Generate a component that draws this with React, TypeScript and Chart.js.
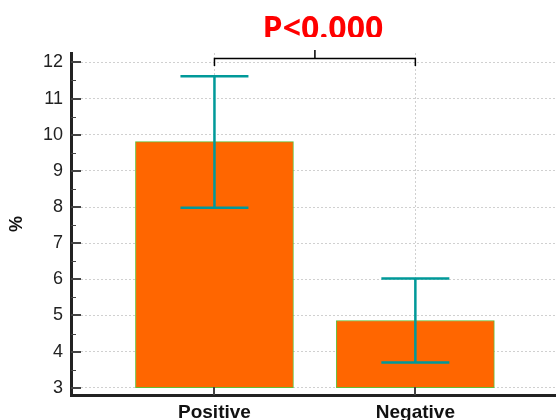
import React, { useEffect, useRef } from "react";
import { Chart, registerables } from "chart.js";

Chart.register(...registerables);

const categories = ["Positive", "Negative"];
const xPositions = [1, 2];
const barBase = 3;
const barValues = [9.81, 4.86];
const errLow = [7.98, 3.7];
const errHigh = [11.62, 6.02];
const yTicks = [3, 4, 5, 6, 7, 8, 9, 10, 11, 12];
const yMinorTicks = [3.5, 4.5, 5.5, 6.5, 7.5, 8.5, 9.5, 10.5, 11.5];
const pLabel = "P<0.000";
const bracketY = 12.11;
const bracketEndY = 11.9;
const bracketTopY = 12.34;

const overlayPlugin = {
  id: "overlay",
  afterDraw(chart: any) {
    const ctx = chart.ctx;
    const xs = chart.scales.x;
    const ys = chart.scales.y;
    const area = chart.chartArea;
    ctx.save();
    // tick marks (inside)
    ctx.strokeStyle = "#444";
    ctx.lineWidth = 2;
    yTicks.forEach((v) => {
      const y = Math.round(ys.getPixelForValue(v));
      ctx.beginPath();
      ctx.moveTo(area.left, y);
      ctx.lineTo(area.left + 10, y);
      ctx.stroke();
    });
    ctx.lineWidth = 1;
    yMinorTicks.forEach((v) => {
      const y = Math.round(ys.getPixelForValue(v)) + 0.5;
      ctx.beginPath();
      ctx.moveTo(area.left, y);
      ctx.lineTo(area.left + 5, y);
      ctx.stroke();
    });
    ctx.lineWidth = 2;
    xPositions.forEach((v) => {
      const x = Math.round(xs.getPixelForValue(v));
      ctx.beginPath();
      ctx.moveTo(x, area.bottom);
      ctx.lineTo(x, area.bottom - 8);
      ctx.stroke();
    });
    // error bars
    ctx.strokeStyle = "#009999";
    ctx.lineWidth = 2.5;
    xPositions.forEach((v, i) => {
      const x = xs.getPixelForValue(v);
      const yl = ys.getPixelForValue(errLow[i]);
      const yh = ys.getPixelForValue(errHigh[i]);
      ctx.beginPath();
      ctx.moveTo(x, yl);
      ctx.lineTo(x, yh);
      ctx.moveTo(x - 34, yl);
      ctx.lineTo(x + 34, yl);
      ctx.moveTo(x - 34, yh);
      ctx.lineTo(x + 34, yh);
      ctx.stroke();
    });
    // bracket
    const x1 = xs.getPixelForValue(xPositions[0]);
    const x2 = xs.getPixelForValue(xPositions[1]);
    const xm = (x1 + x2) / 2;
    const by = ys.getPixelForValue(bracketY);
    const be = ys.getPixelForValue(bracketEndY);
    const bt = ys.getPixelForValue(bracketTopY);
    ctx.strokeStyle = "#000";
    ctx.lineWidth = 1.5;
    ctx.beginPath();
    ctx.moveTo(x1, be);
    ctx.lineTo(x1, by);
    ctx.lineTo(x2, by);
    ctx.lineTo(x2, be);
    ctx.moveTo(xm, by);
    ctx.lineTo(xm, bt);
    ctx.stroke();
    // p label (clipped at top like reference)
    ctx.beginPath();
    ctx.rect(0, 0, chart.width, 37);
    ctx.clip();
    ctx.fillStyle = "#ff0000";
    ctx.font = "bold 32px 'Open Sans'";
    ctx.textAlign = "center";
    ctx.textBaseline = "alphabetic";
    ctx.fillText(pLabel, xm + 8, 39);
    ctx.restore();
  },
};

export default function App() {
  const ref = useRef<HTMLCanvasElement>(null);
  useEffect(() => {
    if (!ref.current) return;
    const chart = new Chart(ref.current, {
      type: "bar",
      data: {
        datasets: [
          {
            data: xPositions.map((x, i) => ({ x, y: [barBase, barValues[i]] })) as any,
            backgroundColor: "#ff6600",
            borderColor: "#66bb33",
            borderWidth: 1,
            borderSkipped: false,
            barThickness: 158,
          },
        ],
      },
      options: {
        responsive: false,
        animation: false,
        layout: { padding: { top: 53, right: 0, left: 0, bottom: 0 } },
        plugins: { legend: { display: false }, tooltip: { enabled: false } },
        scales: {
          x: {
            type: "linear",
            offset: false,
            min: 0.286,
            max: 2.7,
            afterFit: (s: any) => {
              s.height = 25;
            },
            afterBuildTicks: (s: any) => {
              s.ticks = xPositions.map((v) => ({ value: v }));
            },
            ticks: {
              callback: (v: any) => categories[xPositions.indexOf(Number(v))] ?? "",
              font: { family: "'Liberation Sans'", size: 19, weight: "bold" },
              color: "#111",
              padding: 6,
              maxRotation: 0,
              autoSkip: false,
            },
            grid: { color: "#d0d0d0", drawTicks: false, lineWidth: 1, offset: false },
            border: { display: true, color: "#222", width: 3, dash: [2, 2] } as any,
          },
          y: {
            min: 2.8,
            max: 12.26,
            afterFit: (s: any) => {
              s.width = 71;
            },
            afterBuildTicks: (s: any) => {
              s.ticks = yTicks.map((v) => ({ value: v }));
            },
            ticks: {
              font: { family: "'Liberation Sans'", size: 18 },
              color: "#222",
              padding: 8,
            },
            grid: { color: "#d0d0d0", drawTicks: false, lineWidth: 1 },
            border: { display: true, color: "#222", width: 3, dash: [2, 2] } as any,
            title: {
              display: true,
              text: "%",
              font: { family: "'Liberation Sans'", size: 18, weight: "bold" },
              color: "#111",
              padding: { top: 6, bottom: 0 },
            },
          },
        },
      },
      plugins: [overlayPlugin],
    });
    return () => chart.destroy();
  }, []);
  return (
    <div style={{ position: "absolute", left: 0, top: 0, width: 556, height: 420 }}>
      <canvas ref={ref} width={556} height={420} />
    </div>
  );
}
